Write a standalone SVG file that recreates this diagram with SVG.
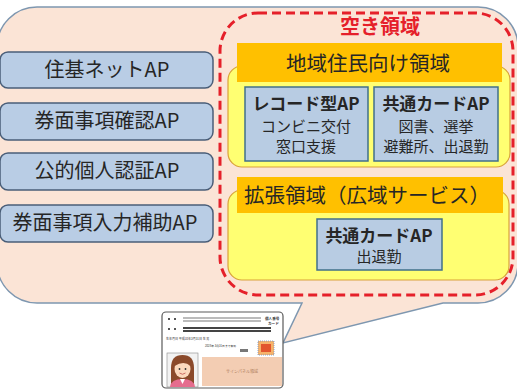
<svg xmlns="http://www.w3.org/2000/svg" width="517" height="390" viewBox="0 0 517 390">
  <style>
    text { font-family: "Noto Sans CJK JP", "Noto Sans", sans-serif; fill: #262626; text-anchor: middle; }
    .ap { fill: #B9CDE5; stroke: #4A5E78; stroke-width: 1.5; }
    .apt { font-size: 20px; }
    .zone { fill: #FFFF72; stroke: #D9A23A; stroke-width: 1.2; }
    .hdr { fill: #FFC000; }
    .hdrt { font-size: 20.5px; }
    .inner { fill: #B8CCE3; stroke: #41708A; stroke-width: 1.5; }
    .bt { font-size: 17px; font-weight: bold; }
    .st { font-size: 15px; }
    .tiny { font-size: 3.6px; fill: #333; text-anchor: start; }
  </style>

  <!-- speech-balloon background with pointer toward the card -->
  <g id="balloon">
    <path d="M -3,47 A 40 40 0 0 1 37,7 H 478 A 40 40 0 0 1 518,47 V 263 A 40 40 0 0 1 478,303 H 443 L 283,343 L 302,303 H 37 A 40 40 0 0 1 -3,263 Z"
          fill="#FBE4D6" stroke="#7E97B0" stroke-width="1.5"/>
  </g>

  <!-- fixed applications -->
  <g id="ap-juki">
    <rect class="ap" x="0" y="52" width="213" height="36" rx="8"/>
    <text class="apt" x="107" y="77">住基ネットAP</text>
  </g>
  <g id="ap-kenmen-kakunin">
    <rect class="ap" x="0" y="103" width="213" height="37" rx="8"/>
    <text class="apt" x="107" y="128">券面事項確認AP</text>
  </g>
  <g id="ap-koteki">
    <rect class="ap" x="0" y="153" width="213" height="37" rx="8"/>
    <text class="apt" x="107" y="178">公的個人認証AP</text>
  </g>
  <g id="ap-kenmen-nyuryoku">
    <rect class="ap" x="0" y="205" width="213" height="37" rx="8"/>
    <text class="apt" x="105" y="230">券面事項入力補助AP</text>
  </g>

  <!-- free area -->
  <g id="free-area">
    <rect x="220" y="13" width="293" height="282" rx="38" fill="none" stroke="#E5202A" stroke-width="3" stroke-dasharray="9 5"/>
    <text x="380" y="34" font-size="20px" font-weight="bold" style="fill:#E5202A">空き領域</text>
  </g>

  <!-- local resident area -->
  <g id="local-area">
    <rect class="zone" x="228" y="66" width="282" height="101" rx="14"/>
    <rect class="hdr" x="237" y="43" width="265" height="39"/>
    <text class="hdrt" x="368" y="71">地域住民向け領域</text>
  </g>
  <g id="record-ap">
    <rect class="inner" x="245" y="87" width="123" height="74"/>
    <text class="bt" x="306" y="110">レコード型AP</text>
    <text class="st" x="306" y="132">コンビニ交付</text>
    <text class="st" x="306" y="152">窓口支援</text>
  </g>
  <g id="common-card-ap-local">
    <rect class="inner" x="374" y="87" width="124" height="74"/>
    <text class="bt" x="436" y="110">共通カードAP</text>
    <text class="st" x="436" y="132">図書、選挙</text>
    <text class="st" x="436" y="152">避難所、出退勤</text>
  </g>

  <!-- extended area -->
  <g id="extended-area">
    <rect class="zone" x="228" y="190" width="281" height="90" rx="14"/>
    <rect class="hdr" x="237" y="177" width="266" height="36"/>
    <text class="hdrt" x="367" y="203">拡張領域（広域サービス）</text>
  </g>
  <g id="common-card-ap-wide">
    <rect class="inner" x="317" y="219" width="125" height="51"/>
    <text class="bt" x="379" y="242">共通カードAP</text>
    <text class="st" x="379" y="262">出退勤</text>
  </g>

  <!-- the card itself -->
  <g id="card">
    <rect x="162" y="312" width="121" height="76" rx="4" fill="#FFFFFF" stroke="#5A5A5A" stroke-width="1.2"/>
    <!-- name / address rows -->
    <g fill="#555">
      <rect x="168" y="318" width="2" height="2"/>
      <rect x="174" y="318" width="2" height="2"/>
      <rect x="168" y="328" width="2" height="2"/>
      <rect x="174" y="328" width="2" height="2"/>
    </g>
    <rect x="183" y="317" width="78" height="2" fill="#bbb"/>
    <rect x="183" y="320" width="78" height="2" fill="#bbb"/>
    <rect x="183" y="327" width="88" height="2" fill="#444"/>
    <rect x="183" y="330" width="88" height="2" fill="#444"/>
    <text class="tiny" x="265" y="320" style="font-weight:bold">個人番号</text>
    <text class="tiny" x="268" y="325" style="font-weight:bold">カード</text>
    <text class="tiny" x="166" y="340" style="font-size:3px">生年月日 平成10年3月31日 生 男</text>
    <text class="tiny" x="205" y="347" style="font-size:2.8px">2028年 3月31日まで有効</text>
    <rect x="240" y="349" width="8" height="3" fill="#777"/>
    <!-- security stamp -->
    <rect x="258" y="341" width="16" height="14" fill="#F6B36B" stroke="#6F8FC8" stroke-width="0.8" stroke-dasharray="1 1"/>
    <rect x="261" y="344" width="10" height="8" fill="#E2552E"/>
    <!-- portrait -->
    <rect x="167" y="353" width="31" height="34" fill="#F2F2F2" stroke="#888" stroke-width="0.6"/>
    <path d="M 171,386 V 368 Q 171,355 182.5,355 Q 194,355 194,368 V 386 Z" fill="#8B4A2B"/>
    <ellipse cx="182.5" cy="369" rx="8" ry="9" fill="#FBD9BE"/>
    <path d="M 174.5,366 Q 177,357 182.5,357 Q 189,357 190.5,366 Q 184,360 174.5,366 Z" fill="#8B4A2B"/>
    <circle cx="179.5" cy="369" r="0.9" fill="#333"/>
    <circle cx="185.5" cy="369" r="0.9" fill="#333"/>
    <path d="M 179.5,373 Q 182.5,375.5 185.5,373" stroke="#C0504D" stroke-width="0.8" fill="none"/>
    <path d="M 170,387 Q 171,379 182.5,379 Q 194,379 195,387 Z" fill="#E56C8E"/>
    <path d="M 180,379 L 182.5,384 L 185,379 Z" fill="#FFFFFF"/>
    <!-- signature panel -->
    <rect x="202" y="357" width="80" height="29" fill="#F3CDB3"/>
    <text x="242" y="373" style="font-size:4px; fill:#B08060">サインパネル領域</text>
  </g>
</svg>
